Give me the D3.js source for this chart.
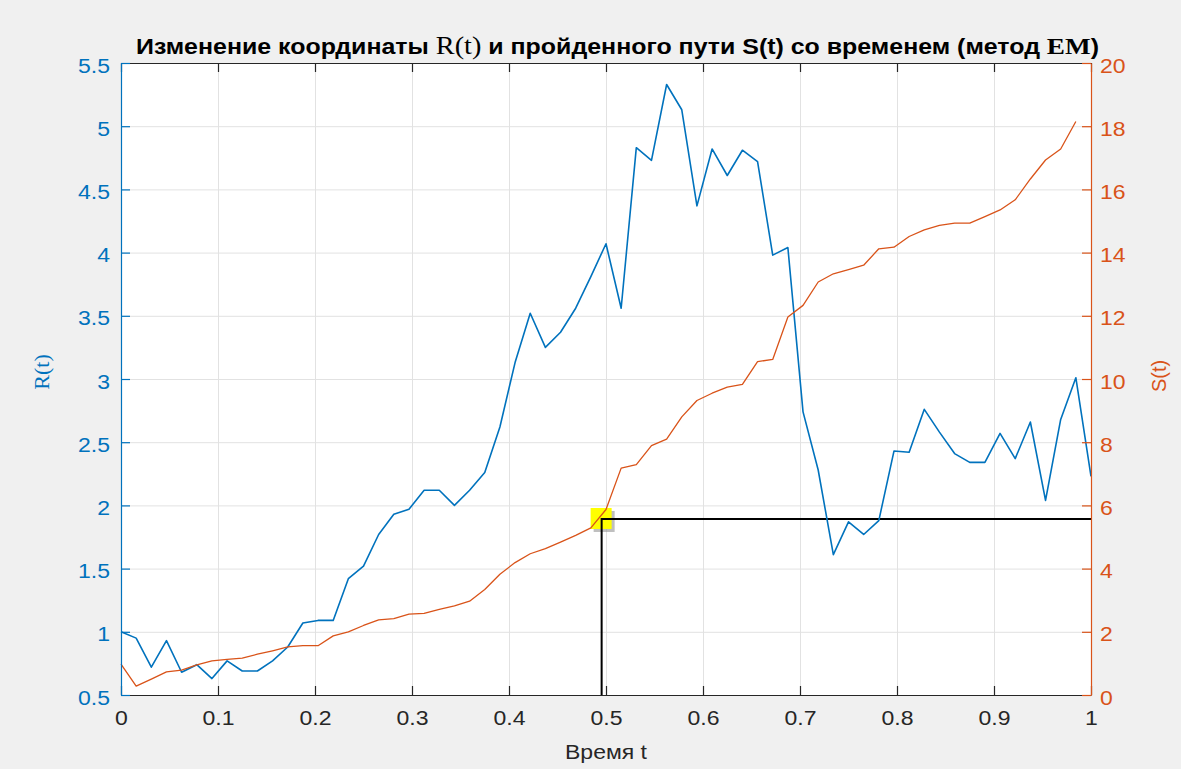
<!DOCTYPE html>
<html>
<head>
<meta charset="utf-8">
<script src="https://cdn.jsdelivr.net/npm/d3@7"></script>
<style>
  html, body { margin: 0; padding: 0; background: #f0f0f0; }
  svg { display: block; }
</style>
</head>
<body>
<svg id="chart" width="1181" height="769"></svg>
<script>
// Time grid: 65 samples on [0, 1], step 1/64
const N = 64;
const tValues = d3.range(N + 1).map(i => i / N);

// Coordinate R(t), one value per time sample
const rValues = [
  1.00, 0.95, 0.72, 0.93, 0.68, 0.74, 0.63, 0.77, 0.69, 0.69,
  0.77, 0.88, 1.07, 1.09, 1.09, 1.42, 1.52, 1.77, 1.93, 1.97,
  2.12, 2.12, 2.00, 2.12, 2.26, 2.62, 3.13, 3.52, 3.25, 3.37,
  3.56, 3.81, 4.07, 3.56, 4.83, 4.73, 5.33, 5.13, 4.37, 4.82,
  4.61, 4.81, 4.72, 3.98, 4.04, 2.74, 2.28, 1.61, 1.87, 1.77,
  1.88, 2.43, 2.42, 2.76, 2.58, 2.41, 2.34, 2.34, 2.57, 2.37,
  2.66, 2.04, 2.68, 3.01, 2.23
];

// Path length S(t), one value per time sample except the last
const sValues = [
  0.98, 0.28, 0.50, 0.73, 0.79, 0.95, 1.08, 1.13, 1.17, 1.29,
  1.40, 1.52, 1.56, 1.56, 1.87, 2.00, 2.20, 2.38, 2.42, 2.56,
  2.58, 2.71, 2.82, 2.97, 3.34, 3.82, 4.19, 4.47, 4.63, 4.84,
  5.05, 5.29, 5.87, 7.18, 7.29, 7.89, 8.10, 8.80, 9.32, 9.55,
  9.74, 9.83, 10.55, 10.62, 11.96, 12.33, 13.07, 13.33, 13.46, 13.60,
  14.12, 14.17, 14.51, 14.72, 14.86, 14.93, 14.93, 15.14, 15.35, 15.67,
  16.33, 16.93, 17.28, 18.15
];

// Tick values and labels
const xTicks = [0, 0.1, 0.2, 0.3, 0.4, 0.5, 0.6, 0.7, 0.8, 0.9, 1];
const xTickLabels = ["0", "0.1", "0.2", "0.3", "0.4", "0.5", "0.6", "0.7", "0.8", "0.9", "1"];
const rTicks = [0.5, 1, 1.5, 2, 2.5, 3, 3.5, 4, 4.5, 5, 5.5];
const rTickLabels = ["0.5", "1", "1.5", "2", "2.5", "3", "3.5", "4", "4.5", "5", "5.5"];
const sTicks = [0, 2, 4, 6, 8, 10, 12, 14, 16, 18, 20];
const sTickLabels = ["0", "2", "4", "6", "8", "10", "12", "14", "16", "18", "20"];

// Data tip: time and S(t) of the marked point
const tipPoint = { t: 0.4955, s: 5.57 };

const BLUE = "#0072BD";
const ORANGE = "#D95319";
const DARK = "#262626";
const FONT = "'Liberation Sans', Arial, sans-serif";
const SERIF = "'Liberation Serif', 'Times New Roman', serif";
const WIDEN = 1.15;

const svg = d3.select("#chart");
const plot = { left: 121, right: 1091, top: 63, bottom: 695 };

const x = d3.scaleLinear().domain([0, 1]).range([plot.left, plot.right]);
const yR = d3.scaleLinear().domain([0.5, 5.5]).range([plot.bottom, plot.top]);
const yS = d3.scaleLinear().domain([0, 20]).range([plot.bottom, plot.top]);

// widen text horizontally
function stretch(sel, k) {
  sel.each(function () {
    const w = this.getComputedTextLength();
    if (w > 0) {
      d3.select(this).attr("textLength", w * k).attr("lengthAdjust", "spacingAndGlyphs");
    }
  });
}

// plot area
svg.append("rect")
  .attr("x", plot.left).attr("y", plot.top)
  .attr("width", plot.right - plot.left).attr("height", plot.bottom - plot.top)
  .attr("fill", "#ffffff");

// grid
const grid = svg.append("g").attr("class", "grid");
grid.append("g")
  .attr("transform", `translate(0,${plot.bottom})`)
  .call(d3.axisBottom(x).tickValues(xTicks).tickSize(-(plot.bottom - plot.top)).tickFormat(""));
grid.append("g")
  .attr("transform", `translate(${plot.left},0)`)
  .call(d3.axisLeft(yR).tickValues(rTicks).tickSize(-(plot.right - plot.left)).tickFormat(""));
grid.selectAll(".domain").remove();
grid.selectAll("line").attr("stroke", "#e2e2e2").attr("stroke-width", 1);

// data tip marker
const mx = x(tipPoint.t), my = yS(tipPoint.s);
svg.append("rect")
  .attr("x", mx - 8).attr("y", my - 8).attr("width", 21).attr("height", 21)
  .attr("fill", "#8a8a8a").attr("opacity", 0.55);
svg.append("rect")
  .attr("x", mx - 11).attr("y", my - 11).attr("width", 21).attr("height", 21)
  .attr("fill", "#ffff00");

// guide lines from the marked point
svg.append("path")
  .attr("d", `M${x(1)},${my}H${mx}V${yS(0)}`)
  .attr("fill", "none").attr("stroke", "#000").attr("stroke-width", 2);

// series
const lineR = d3.line().x((d, i) => x(tValues[i])).y(d => yR(d));
const lineS = d3.line().x((d, i) => x(tValues[i])).y(d => yS(d));

svg.append("path").datum(rValues)
  .attr("d", lineR).attr("fill", "none")
  .attr("stroke", BLUE).attr("stroke-width", 1.6).attr("stroke-linejoin", "round");
svg.append("path").datum(sValues)
  .attr("d", lineS).attr("fill", "none")
  .attr("stroke", ORANGE).attr("stroke-width", 1.3).attr("stroke-linejoin", "round");

// axes
function styleAxis(g, color) {
  g.selectAll(".domain").attr("stroke", color).attr("stroke-width", 1.2);
  g.selectAll(".tick line").attr("stroke", color).attr("stroke-width", 1.2);
  g.selectAll(".tick text").attr("fill", color)
    .style("font-family", FONT).style("font-size", "20px");
}

// top border with mirrored ticks
const gTop = svg.append("g").attr("transform", `translate(0,${plot.top})`)
  .call(d3.axisTop(x).tickValues(xTicks).tickSizeInner(-9).tickSizeOuter(0).tickFormat(""));
styleAxis(gTop, DARK);

const gBottom = svg.append("g").attr("transform", `translate(0,${plot.bottom})`)
  .call(d3.axisBottom(x).tickValues(xTicks).tickSizeInner(-9).tickSizeOuter(0)
    .tickPadding(11).tickFormat((d, i) => xTickLabels[i]));
styleAxis(gBottom, DARK);
gBottom.selectAll(".tick text").attr("dy", "0.95em");

const gLeft = svg.append("g").attr("transform", `translate(${plot.left},0)`)
  .call(d3.axisLeft(yR).tickValues(rTicks).tickSizeInner(-9).tickSizeOuter(0)
    .tickPadding(11).tickFormat((d, i) => rTickLabels[i]));
styleAxis(gLeft, BLUE);
gLeft.selectAll(".tick text").attr("dy", "0.45em");

const gRight = svg.append("g").attr("transform", `translate(${plot.right},0)`)
  .call(d3.axisRight(yS).tickValues(sTicks).tickSizeInner(-9).tickSizeOuter(0)
    .tickPadding(9).tickFormat((d, i) => sTickLabels[i]));
styleAxis(gRight, ORANGE);
gRight.selectAll(".tick text").attr("dy", "0.45em");

stretch(svg.selectAll(".tick text"), WIDEN);

// axis titles
const xLabel = svg.append("text")
  .attr("x", (plot.left + plot.right) / 2).attr("y", 759)
  .attr("text-anchor", "middle").attr("fill", DARK)
  .style("font-family", FONT).style("font-size", "20px")
  .text("Время t");
stretch(xLabel, WIDEN);

svg.append("text")
  .attr("transform", "translate(49,372) rotate(-90)")
  .attr("text-anchor", "middle").attr("fill", BLUE)
  .style("font-family", SERIF).style("font-size", "22px")
  .text("R(t)");

svg.append("text")
  .attr("transform", "translate(1166,376) rotate(-90)")
  .attr("text-anchor", "middle").attr("fill", ORANGE)
  .style("font-family", FONT).style("font-size", "20px")
  .text("S(t)");

// title with serif symbols
const title = svg.append("text")
  .attr("x", 136).attr("y", 54)
  .attr("fill", "#000")
  .style("font-family", FONT).style("font-size", "22px").style("font-weight", "bold");
title.append("tspan").text("Изменение координаты ");
title.append("tspan").style("font-family", SERIF).style("font-weight", "normal").style("font-size", "25px").text("R(t)");
title.append("tspan").text(" и пройденного пути S(t) со временем (метод ");
title.append("tspan").style("font-family", SERIF).style("font-size", "24px").text("EM");
title.append("tspan").text(")");
title.attr("textLength", 963).attr("lengthAdjust", "spacingAndGlyphs");
</script>
</body>
</html>
